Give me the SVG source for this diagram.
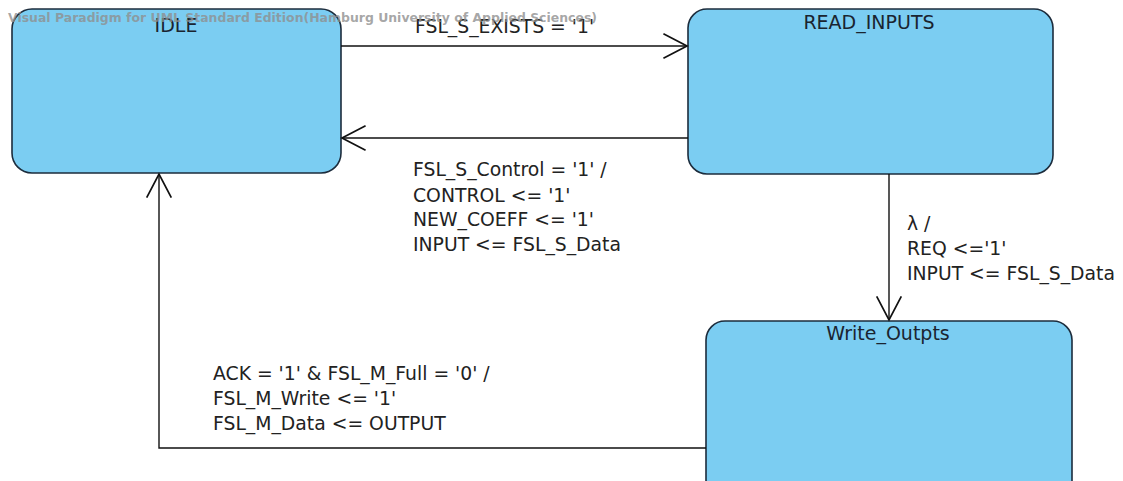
<svg xmlns="http://www.w3.org/2000/svg" width="1123" height="481" viewBox="0 0 1123 481">
  <style>
    .state { fill: #7bcdf2; stroke: #1c2c3c; stroke-width: 1.6; }
    .title { font-family: "DejaVu Sans", "Liberation Sans", sans-serif; font-size: 19px; fill: #1a2430; text-anchor: middle; }
    .edge { fill: none; stroke: #111; stroke-width: 1.4; }
    .label { font-family: "DejaVu Sans", "Liberation Sans", sans-serif; font-size: 18.8px; fill: #222; }
    .mark { font-family: "DejaVu Sans", "Liberation Sans", sans-serif; font-size: 12px; font-weight: bold; fill: #8f8f8f; fill-opacity: 0.8; }
  </style>
  <defs>
    <marker id="open" markerUnits="userSpaceOnUse" markerWidth="30" markerHeight="30" viewBox="-24 -14 26 28" refX="0" refY="0" orient="auto">
      <path d="M-22,-11.5 L0,0 L-22,11.5" fill="none" stroke="#111" stroke-width="1.6"/>
    </marker>
  </defs>

  <rect width="1123" height="481" fill="#ffffff"/>

  <!-- states -->
  <g id="idle">
    <rect class="state" x="12" y="9" width="329" height="164" rx="20" ry="20"/>
    <text class="title" x="176" y="32">IDLE</text>
  </g>
  <g id="read_inputs">
    <rect class="state" x="688" y="9" width="365" height="165" rx="19" ry="19"/>
    <text class="title" x="869" y="29">READ_INPUTS</text>
  </g>
  <g id="write_outpts">
    <rect class="state" x="706" y="321" width="366" height="180" rx="19" ry="19"/>
    <text class="title" x="888" y="340">Write_Outpts</text>
  </g>

  <!-- transitions -->
  <g id="transitions">
    <path class="edge" d="M341,46 L687,46" marker-end="url(#open)"/>
    <path class="edge" d="M688,138 L342,138" marker-end="url(#open)"/>
    <path class="edge" d="M889,174 L889,320" marker-end="url(#open)"/>
    <path class="edge" d="M706,448 L159,448 L159,174" marker-end="url(#open)"/>
  </g>

  <!-- transition labels -->
  <g id="labels">
    <text class="label" x="415" y="33">FSL_S_EXISTS = '1'</text>
    <text class="label" x="413" y="176">FSL_S_Control  = '1' /</text>
    <text class="label" x="413" y="202">CONTROL &lt;= '1'</text>
    <text class="label" x="413" y="226">NEW_COEFF &lt;= '1'</text>
    <text class="label" x="413" y="251">INPUT &lt;= FSL_S_Data</text>
    <text class="label" x="907" y="230">λ /</text>
    <text class="label" x="907" y="255">REQ &lt;='1'</text>
    <text class="label" x="907" y="280">INPUT &lt;= FSL_S_Data</text>
    <text class="label" x="213" y="380">ACK = '1' &amp; FSL_M_Full = '0' /</text>
    <text class="label" x="213" y="405">FSL_M_Write  &lt;= '1'</text>
    <text class="label" x="213" y="430">FSL_M_Data &lt;= OUTPUT</text>
  </g>

  <!-- edition watermark -->
  <text class="mark" x="8" y="22" textLength="589" lengthAdjust="spacingAndGlyphs">Visual Paradigm for UML Standard Edition(Hamburg University of Applied Sciences)</text>
</svg>
